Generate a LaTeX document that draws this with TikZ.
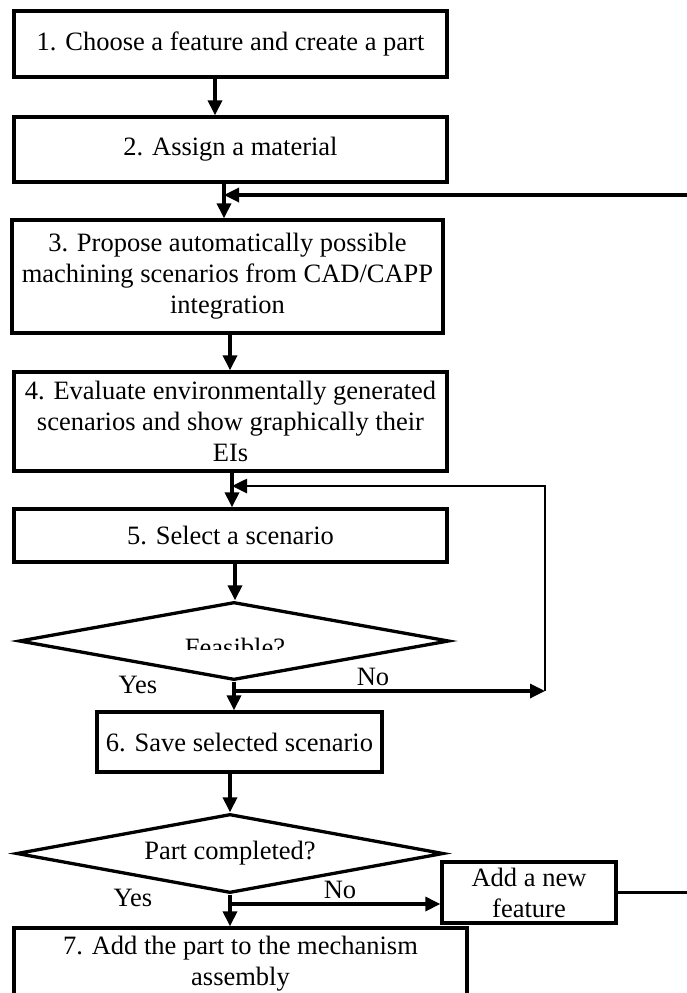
\documentclass[tikz,border=0pt]{standalone}
\usepackage{fontspec}
\setmainfont{Liberation Serif}
\usetikzlibrary{arrows.meta,shapes.geometric}

\tikzset{
  stepbox/.style={draw,line width=3.3pt,minimum width=433pt,align=center,inner sep=2pt},
  decision/.style={draw,diamond,line width=3.3pt,inner sep=0pt,aspect=5.5},
  arr/.style={line width=3.3pt,-{Triangle[length=15pt,width=14pt]}},
  lbl/.style={inner sep=0pt}
}

\begin{document}
\begin{tikzpicture}[x=1pt,y=-1pt,font=\fontsize{26.5}{31}\selectfont]
    \clip (0,0) rectangle (687,993);
    % steps of the procedure
    \node[stepbox,minimum height=66pt] (s1) at (230.5,44) {1. Choose a feature and create a part};
    \node[stepbox,minimum height=65pt] (s2) at (230.5,149.5) {2. Assign a material};
    \node[stepbox,minimum width=431pt,minimum height=113pt] (s3) at (227.5,276.5)
      {3. Propose automatically possible\\machining scenarios from CAD/CAPP\\integration};
    \node[stepbox,minimum height=99pt] (s4) at (230.5,421.5)
      {4. Evaluate environmentally generated\\scenarios and show graphically their\\EIs};
    \node[stepbox,minimum height=53pt] (s5) at (230.5,535.5) {5. Select a scenario};
    \node[decision,minimum width=430pt,minimum height=78pt] (d1) at (234,641) {};
    \begin{scope}
      \clip (180,628) rectangle (295,649);
      \node[lbl,anchor=base] (feas) at (235,656.5) {Feasible?};
    \end{scope}
    \node[stepbox,minimum width=285pt,minimum height=60pt] (s6) at (239.5,742) {6. Save selected scenario};
    \node[decision,minimum width=427pt,minimum height=79pt] (d2) at (230,853.5) {Part completed?};
    \node[stepbox,minimum width=174pt,minimum height=61pt] (fnew) at (529,892.5) {Add a new\\feature};
    \node[stepbox,minimum width=453pt,minimum height=72pt] (s7) at (240.5,964)
      {7. Add the part to the mechanism\\assembly};
    % branch labels
    \node[lbl] (yes1) at (138,685) {Yes};
    \node[lbl] (no1) at (373,677) {No};
    \node[lbl] (yes2) at (133,898) {Yes};
    \node[lbl] (no2) at (340,890) {No};
    % joints
    \coordinate (m3) at (224,195);
    \coordinate (m5) at (232,486);
    \coordinate (j1) at (234,691);
    \coordinate (c1) at (545,691);
    \coordinate (j2) at (230,904);
    % flow
    \draw[arr] ([xshift=-15.5pt]s1.south) -- ([xshift=-15.5pt]s2.north);
    \draw[arr] ([xshift=-6.5pt]s2.south) -- ([xshift=-3.5pt]s3.north);
    \draw[arr] ([xshift=2.5pt]s3.south) -- ([xshift=-0.5pt]s4.north);
    \draw[arr] ([xshift=1.5pt]s4.south) -- ([xshift=1.5pt]s5.north);
    \draw[arr] ([xshift=4.5pt]s5.south) -- ([xshift=1pt]d1.north);
    \draw[arr] (d1.south) -- ([xshift=-5.5pt]s6.north);
    \draw[arr] (j1) -- (c1);
    \draw[arr,line width=2.6pt] (c1) |- (m5);
    \draw[arr] ([xshift=-9.5pt]s6.south) -- (d2.north);
    \draw[arr] (d2.south) -- ([xshift=-10.5pt]s7.north);
    \draw[arr] (j2) -- (j2 -| fnew.west);
    \draw[arr] (fnew.east) -- ++(84,0) |- (m3);
\end{tikzpicture}
\end{document}
